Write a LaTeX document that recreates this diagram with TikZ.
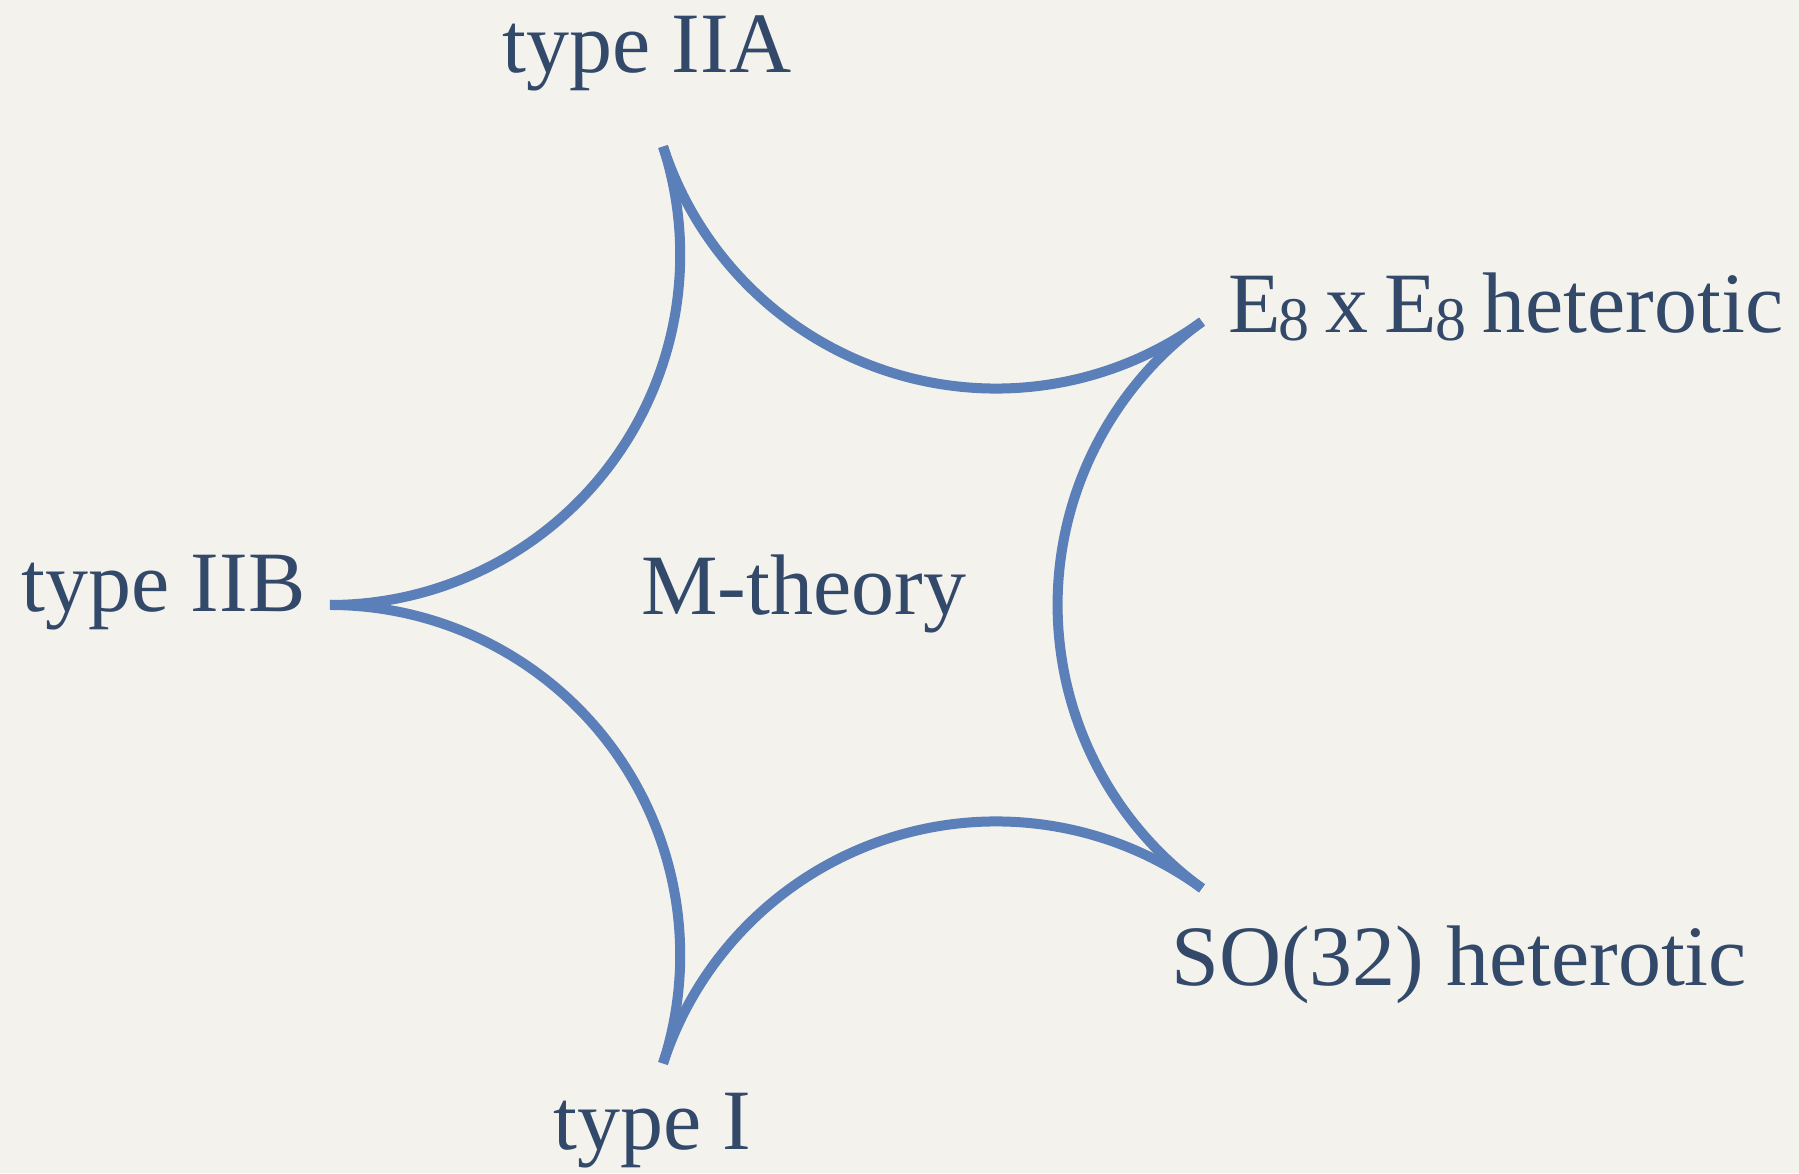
\documentclass[tikz,border=0pt]{standalone}
\usepackage{fontspec}
\setmainfont{Liberation Serif}
\usetikzlibrary{calc}
\definecolor{bg}{HTML}{F4F2ED}
\definecolor{ink}{HTML}{33496A}
\definecolor{curve}{HTML}{5B7FB9}
\newcommand{\eeight}{E\kern-1pt\raisebox{-4pt}{\fontsize{31}{31}\selectfont 8}}
\begin{document}
\begin{tikzpicture}[x=0.5pt,y=0.5pt,
  lbl/.style={anchor=base west,inner sep=0pt,text=ink,font=\fontsize{43}{43}\selectfont},
  edge/.style={draw=curve,line width=5pt}]
\fill[bg] (0,0) rectangle (1799,1173);
\useasboundingbox (0,0) rectangle (1799,1173);
\coordinate (O) at (812,568);
\coordinate (iib) at ($(O)+(180:241pt)$);
\coordinate (iia) at ($(O)+(108:241pt)$);
\coordinate (e8)  at ($(O)+(36:241pt)$);
\coordinate (so)  at ($(O)+(-36:241pt)$);
\coordinate (ti)  at ($(O)+(-108:241pt)$);
\draw[edge] (e8)  arc[start angle=126, end angle=234, radius=175.1pt];
\draw[edge] (iia) arc[start angle=198, end angle=306, radius=175.1pt];
\draw[edge] (iib) arc[start angle=270, end angle=378, radius=175.1pt];
\draw[edge] (ti)  arc[start angle=342, end angle=450, radius=175.1pt];
\draw[edge] (so)  arc[start angle=414, end angle=522, radius=175.1pt];
\node[lbl] (liia) at (502,1100) {type IIA};
\node[lbl] (le8) at (1228,840) {\eeight\hspace{8pt}x\hspace{8pt}\eeight\hspace{8pt}heterotic};
\node[lbl] (liib) at (21,561) {type IIB};
\node[lbl] (lm) at (641,558) {M-theory};
\node[lbl] (lso) at (1171,187) {SO(32) heterotic};
\node[lbl] (lti) at (553,24) {type I};
\end{tikzpicture}
\end{document}
